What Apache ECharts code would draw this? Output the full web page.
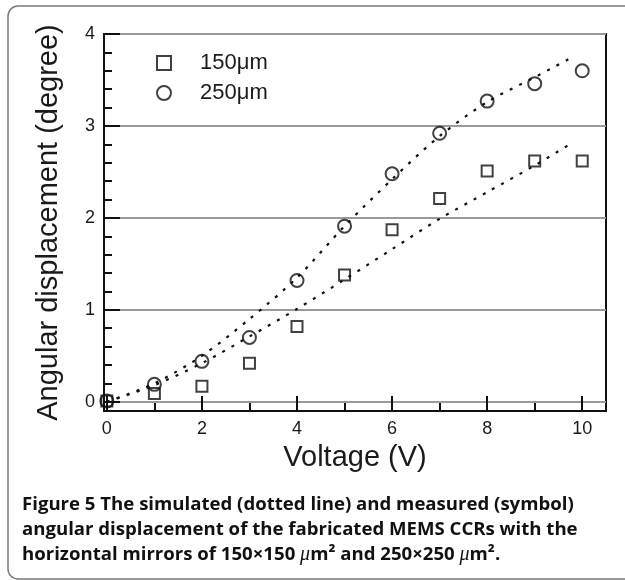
<!DOCTYPE html>
<html>
<head>
<meta charset="utf-8">
<script src="https://cdn.jsdelivr.net/npm/echarts@6/dist/echarts.min.js"></script>
<style>
html,body{margin:0;padding:0;background:#fff;}
#chart{width:625px;height:580px;}
</style>
</head>
<body>
<div id="chart"></div>
<script>
// ---- data ----
const voltages = [0, 1, 2, 3, 4, 5, 6, 7, 8, 9, 10];
const measured150 = [0.01, 0.09, 0.17, 0.42, 0.82, 1.38, 1.87, 2.21, 2.51, 2.62, 2.62];
const measured250 = [0.01, 0.19, 0.44, 0.70, 1.32, 1.91, 2.48, 2.92, 3.27, 3.46, 3.60];
const simVoltages = [0, 1, 2, 3, 4, 5, 6, 7, 8, 9, 9.8];
const simulated150 = [0, 0.18, 0.42, 0.71, 1.01, 1.33, 1.66, 1.99, 2.28, 2.57, 2.82];
const simulated250 = [0, 0.20, 0.50, 0.90, 1.35, 1.91, 2.42, 2.89, 3.26, 3.53, 3.75];
const xMajorTicks = [0, 2, 4, 6, 8, 10];
const xMinorTicks = [1, 3, 5, 7, 9];
const yMajorTicks = [0, 1, 2, 3, 4];
const yMinorTicks = [0.2, 0.4, 0.6, 0.8, 1.2, 1.4, 1.6, 1.8, 2.2, 2.4, 2.6, 2.8, 3.2, 3.4, 3.6, 3.8];
const seriesNames = ['150\u03bcm', '250\u03bcm'];
const xTitle = 'Voltage (V)';
const yTitle = 'Angular displacement (degree)';
const captionLines = [
  [['b', 'Figure 5'], ['n', ' The simulated (dotted line) and measured (symbol)']],
  [['n', 'angular displacement of the fabricated MEMS CCRs with the']],
  [['n', 'horizontal mirrors of 150\u00d7150 '], ['mu', '\u03bc'], ['n', 'm\u00b2 and 250\u00d7250 '], ['mu', '\u03bc'], ['n', 'm\u00b2.']]
];

const pairs = (xs, ys) => xs.map((x, i) => [x, ys[i]]);
const ink = '#1a1a1a';
const xMin = -0.06, xMax = 10.5, yMin = -0.1, yMax = 4;

const chart = echarts.init(document.getElementById('chart'), null, {renderer: 'canvas'});

const captionRich = {
  b: {fontFamily: 'Open Sans', fontWeight: 'bold', fontSize: 18.6, color: '#111'},
  n: {fontFamily: 'Open Sans', fontWeight: 'bold', fontSize: 18.6, color: '#111'},
  mu: {fontFamily: 'Liberation Serif', fontStyle: 'italic', fontSize: 20, color: '#111'}
};
const captionTops = [495, 520, 545];
const captionGraphics = captionLines.map((parts, i) => ({
  type: 'text',
  left: 22,
  top: captionTops[i],
  silent: true,
  style: {
    text: parts.map(p => '{' + p[0] + '|' + p[1] + '}').join(''),
    rich: captionRich,
    fill: '#111'
  }
}));

const option = {
  animation: false,
  backgroundColor: '#fff',
  grid: {
    left: 104, top: 34, right: 19, bottom: 169,
    show: true, borderColor: '#111', borderWidth: 2, backgroundColor: 'transparent'
  },
  legend: {
    orient: 'vertical',
    left: 151, top: 47,
    itemWidth: 14, itemHeight: 14,
    itemGap: 8,
    data: seriesNames,
    textStyle: {fontFamily: 'Liberation Sans', fontSize: 22, color: ink, padding: [0, 0, 0, 24]},
    selectedMode: false
  },
  xAxis: [{
    type: 'value', min: xMin, max: xMax, position: 'bottom',
    name: xTitle, nameLocation: 'middle', nameGap: 32,
    nameTextStyle: {fontFamily: 'Liberation Sans', fontSize: 29, color: ink},
    axisLine: {show: true, onZero: false, lineStyle: {color: '#111', width: 2}},
    axisTick: {show: true, inside: true, length: 15, customValues: xMajorTicks, lineStyle: {color: '#111', width: 2}},
    axisLabel: {show: true, customValues: xMajorTicks, margin: 9, fontFamily: 'Liberation Sans', fontSize: 18, color: ink},
    splitLine: {show: false}
  }, {
    type: 'value', min: xMin, max: xMax, position: 'bottom',
    axisLine: {show: false, onZero: false},
    axisTick: {show: true, inside: true, length: 8, customValues: xMinorTicks, lineStyle: {color: '#111', width: 2}},
    axisLabel: {show: false},
    splitLine: {show: false}
  }],
  yAxis: [{
    type: 'value', min: yMin, max: yMax, position: 'left',
    name: yTitle, nameLocation: 'middle', nameGap: 41,
    nameTextStyle: {fontFamily: 'Liberation Sans', fontSize: 29, color: ink},
    axisLine: {show: true, onZero: false, lineStyle: {color: '#111', width: 2}},
    axisTick: {show: true, inside: true, length: 16, customValues: yMajorTicks, lineStyle: {color: '#111', width: 2}},
    axisLabel: {show: true, customValues: yMajorTicks, margin: 9, fontFamily: 'Liberation Sans', fontSize: 18, color: ink},
    splitLine: {show: true, lineStyle: {color: '#9a9a9a', width: 2}}
  }, {
    type: 'value', min: yMin, max: yMax, position: 'left',
    axisLine: {show: false, onZero: false},
    axisTick: {show: true, inside: true, length: 8, customValues: yMinorTicks, lineStyle: {color: '#111', width: 2}},
    axisLabel: {show: false},
    splitLine: {show: false}
  }],
  series: [{
    name: seriesNames[0] + ' simulated', type: 'line', xAxisIndex: 0, yAxisIndex: 0,
    data: pairs(simVoltages, simulated150), smooth: 0.3, showSymbol: false, silent: true,
    lineStyle: {color: '#111', width: 2.2, type: [3, 7.5]}
  }, {
    name: seriesNames[1] + ' simulated', type: 'line', xAxisIndex: 0, yAxisIndex: 0,
    data: pairs(simVoltages, simulated250), smooth: 0.3, showSymbol: false, silent: true,
    lineStyle: {color: '#111', width: 2.2, type: [3, 7.5]}
  }, {
    name: seriesNames[0], type: 'scatter', xAxisIndex: 0, yAxisIndex: 0,
    data: pairs(voltages, measured150), symbol: 'rect', symbolSize: 11,
    itemStyle: {color: 'rgba(255,255,255,0)', borderColor: '#111', borderWidth: 2}
  }, {
    name: seriesNames[1], type: 'scatter', xAxisIndex: 0, yAxisIndex: 0,
    data: pairs(voltages, measured250), symbol: 'circle', symbolSize: 13,
    itemStyle: {color: 'rgba(255,255,255,0)', borderColor: '#111', borderWidth: 2}
  }],
  graphic: [{
    type: 'rect', silent: true, z: -10,
    shape: {x: 8, y: 6, width: 660, height: 573, r: 10},
    style: {fill: 'none', stroke: '#7a7a7a', lineWidth: 1.5}
  }].concat(captionGraphics)
};
chart.setOption(option);
</script>
</body>
</html>
